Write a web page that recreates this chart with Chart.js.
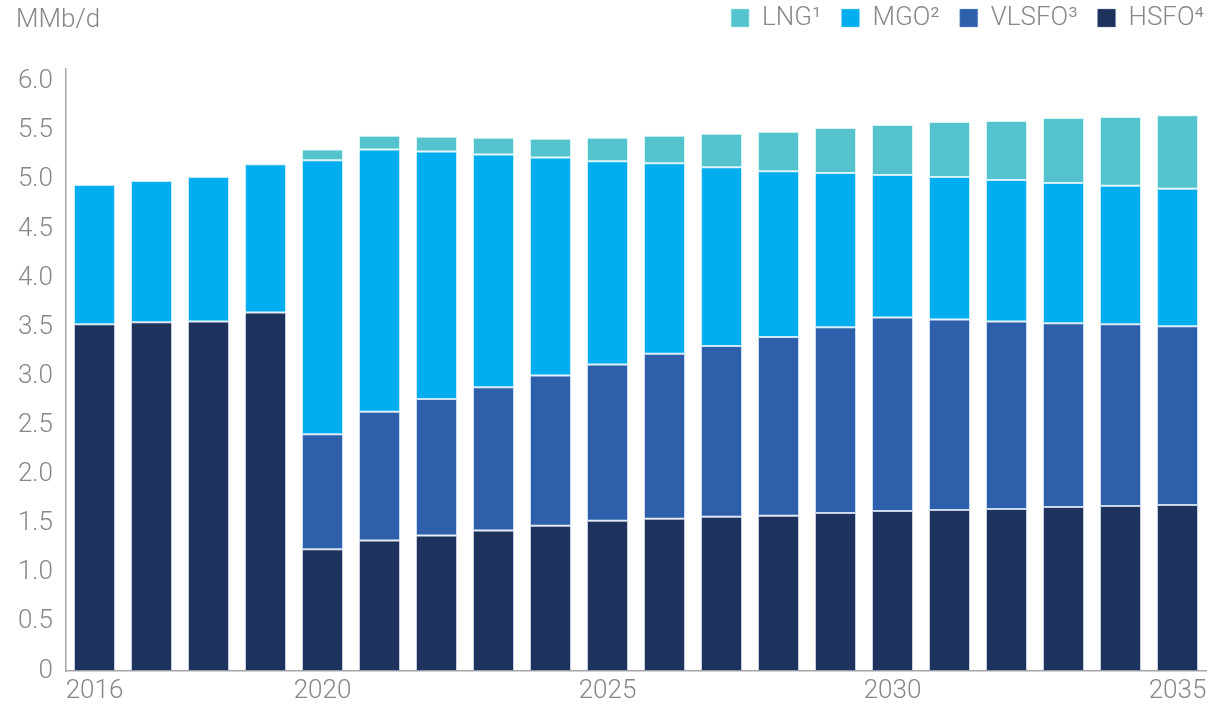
<!DOCTYPE html>
<html>
<head>
<meta charset="utf-8">
<script src="https://cdn.jsdelivr.net/npm/chart.js@4/dist/chart.umd.min.js"></script>
<style>
  html, body { margin: 0; padding: 0; background: #ffffff; }
  #wrap { width: 1228px; height: 705px; position: relative; }
</style>
</head>
<body>
<div id="wrap"><canvas id="c" width="1228" height="705"></canvas></div>
<script>
const years = ['2016','2017','2018','2019','2020','2021','2022','2023','2024','2025','2026','2027','2028','2029','2030','2031','2032','2033','2034','2035'];
const shownYears = ['2016','2020','2025','2030','2035'];
const yTicks = [0, 0.5, 1.0, 1.5, 2.0, 2.5, 3.0, 3.5, 4.0, 4.5, 5.0, 5.5, 6.0];
const hsfo  = [3.53,3.55,3.56,3.65,1.24,1.33,1.38,1.43,1.48,1.53,1.55,1.57,1.58,1.61,1.63,1.64,1.65,1.67,1.68,1.69];
const vlsfo = [null,null,null,null,1.17,1.31,1.39,1.46,1.53,1.59,1.68,1.74,1.82,1.89,1.97,1.94,1.91,1.87,1.85,1.82];
const mgo   = [1.42,1.44,1.47,1.51,2.79,2.67,2.52,2.37,2.22,2.07,1.94,1.82,1.69,1.57,1.45,1.45,1.44,1.43,1.41,1.40];
const lng   = [null,null,null,null,0.11,0.14,0.15,0.17,0.19,0.24,0.28,0.34,0.40,0.46,0.51,0.56,0.60,0.66,0.70,0.75];
const seriesNames = ['HSFO⁴','VLSFO³','MGO²','LNG¹'];
const unitLabel = 'MMb/d';

const textColor = '#86878a';
const fontFamily = "'Roboto', 'Liberation Sans', sans-serif";
const fontSize = 26;

const unitPlugin = {
  id: 'unitLabel',
  afterDraw(chart) {
    const ctx = chart.ctx;
    ctx.save();
    ctx.fillStyle = textColor;
    ctx.font = "300 " + fontSize + "px " + fontFamily;
    ctx.textBaseline = 'middle';
    ctx.textAlign = 'left';
    ctx.fillText(unitLabel, 16, 20);
    ctx.restore();
  }
};
const legendGap = {
  id: 'legendGap',
  beforeInit(chart) {
    const orig = chart.legend.fit;
    chart.legend.fit = function() {
      orig.bind(chart.legend)();
      this.height += 28;
    };
  },
  afterLayout(chart) {
    chart.legend.left += 18;
    chart.legend.right += 18;
  }
};

function ds(label, data, color, border) {
  return {
    label, data,
    backgroundColor: color,
    borderColor: border,
    borderWidth: 1,
    borderSkipped: false,
    barPercentage: 0.72,
    categoryPercentage: 1.0
  };
}

new Chart(document.getElementById('c'), {
  type: 'bar',
  data: {
    labels: years,
    datasets: [
      ds(seriesNames[0], hsfo,  '#1d325c', 'rgba(120,140,180,0.4)'),
      ds(seriesNames[1], vlsfo, '#2d5fab', 'rgba(130,170,225,0.4)'),
      ds(seriesNames[2], mgo,   '#00adee', 'rgba(130,215,250,0.45)'),
      ds(seriesNames[3], lng,   '#55c3ce', 'rgba(180,235,240,0.5)')
    ]
  },
  options: {
    responsive: false,
    animation: false,
    layout: { padding: { top: -15, right: 22, left: 0, bottom: 0 } },
    plugins: {
      legend: {
        position: 'top',
        align: 'end',
        reverse: true,
        labels: {
          boxWidth: 18,
          boxHeight: 18,
          padding: 20,
          color: textColor,
          font: { family: fontFamily, size: fontSize, weight: '300' }
        }
      },
      tooltip: { enabled: false }
    },
    scales: {
      x: {
        stacked: true,
        grid: { display: false, drawTicks: false },
        border: { display: true, color: '#a6a6a6', width: 1.5 },
        afterFit(scale) { scale.height = 34; },
        ticks: {
          autoSkip: false,
          maxRotation: 0,
          padding: 5,
          color: textColor,
          font: { family: fontFamily, size: fontSize, weight: '300' },
          callback(value) {
            const l = this.getLabelForValue(value);
            return shownYears.includes(l) ? l : '';
          }
        }
      },
      y: {
        stacked: true,
        min: 0,
        max: 6.13,
        grid: { display: false, drawTicks: false },
        border: { display: true, color: '#a6a6a6', width: 1.5 },
        afterFit(scale) { scale.width = 66; },
        afterBuildTicks(scale) {
          scale.ticks = yTicks.map(v => ({ value: v }));
        },
        ticks: {
          padding: 13,
          color: textColor,
          font: { family: fontFamily, size: fontSize, weight: '300' },
          callback(value) { return value === 0 ? '0' : Number(value).toFixed(1); }
        }
      }
    }
  },
  plugins: [unitPlugin, legendGap]
});
</script>
</body>
</html>
